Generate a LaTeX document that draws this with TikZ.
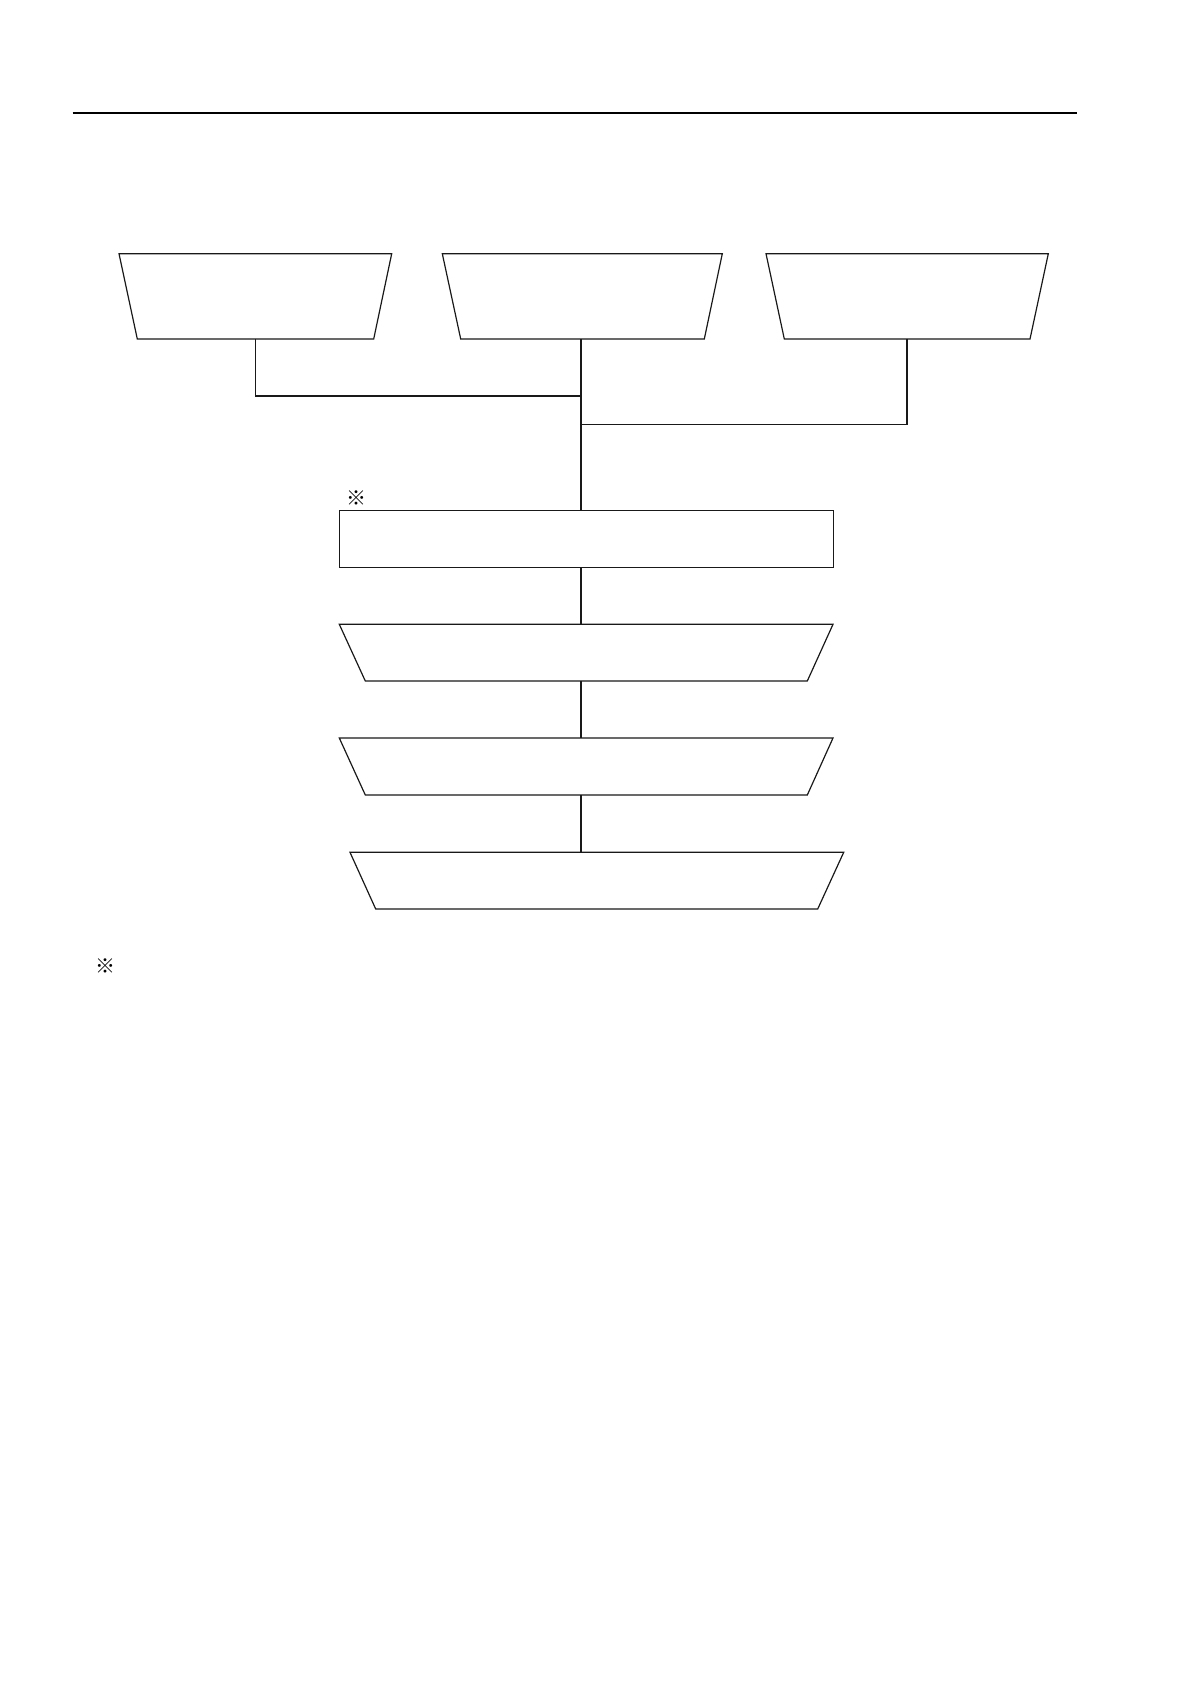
\documentclass[tikz,border=0pt]{standalone}
\usepackage{fontspec}
\newfontfamily\cjk{Noto Sans CJK JP}
\begin{document}
\begin{tikzpicture}[x=0.5pt,y=-0.5pt,
  shapeline/.style={draw=black!90,line width=0.6pt,line join=miter},
  conn/.style={draw=black!90,line width=0.6pt},
  anchorbox/.style={draw=none,inner sep=0pt,outer sep=0pt},
  mark note/.style={font=\cjk\fontsize{10}{11}\selectfont,inner sep=0pt}]
\useasboundingbox (0,0) rectangle (1190,1684);
% header rule
\coordinate (ruleL) at (72.7,113.3);
\coordinate (ruleR) at (1076.7,113.3);
\draw[line width=0.8pt] (ruleL) -- (ruleR);
% top trapezoids (wide top)
\draw[shapeline] (119,253.7) -- (391.7,253.7) -- (373.7,339) -- (137.3,339) -- cycle;
\node[anchorbox,minimum width=236.4*0.5pt,minimum height=85.3*0.5pt] (b1) at (255.5,296.35) {};
\draw[shapeline] (442.3,253.7) -- (722.3,253.7) -- (704.3,339) -- (460.7,339) -- cycle;
\node[anchorbox,minimum width=243.6*0.5pt,minimum height=85.3*0.5pt] (b2) at (581,296.35) {};
\draw[shapeline] (766,253.7) -- (1048.3,253.7) -- (1030,339) -- (784.3,339) -- cycle;
\node[anchorbox,minimum width=245.7*0.5pt,minimum height=85.3*0.5pt] (b3) at (907,296.35) {};
% rectangle
\node[shapeline,anchorbox,draw,minimum width=494.4*0.5pt,minimum height=57*0.5pt] (r) at (586.5,538.8) {};
% lower trapezoids (wide top)
\draw[shapeline] (339.3,624.3) -- (833,624.3) -- (807.3,681) -- (365.3,681) -- cycle;
\node[anchorbox,minimum width=442*0.5pt,minimum height=56.7*0.5pt] (tA) at (581,652.65) {};
\draw[shapeline] (339.3,738) -- (833,738) -- (807.3,795) -- (365.3,795) -- cycle;
\node[anchorbox,minimum width=442*0.5pt,minimum height=57*0.5pt] (tB) at (581,766.5) {};
\draw[shapeline] (350,852.3) -- (843.7,852.3) -- (817.7,909) -- (375.7,909) -- cycle;
\node[anchorbox,minimum width=442*0.5pt,minimum height=56.7*0.5pt] (tC) at (581,880.65) {};
% junctions
\coordinate (j1) at (581,396);
\coordinate (j3) at (581,424.3);
% connectors
\draw[conn] (b1.south) |- (j1);
\draw[conn] (b3.south) |- (j3);
\draw[conn] (b2.south) -- (b2.south |- r.north);
\draw[conn] (b2.south |- r.south) -- (tA.north);
\draw[conn] (tA.south) -- (tB.north);
\draw[conn] (tB.south) -- (tC.north);
% notes
\node[mark note] (m1) at (356.7,498) {※};
\node[mark note] (m2) at (105,966) {※};
\end{tikzpicture}
\end{document}
